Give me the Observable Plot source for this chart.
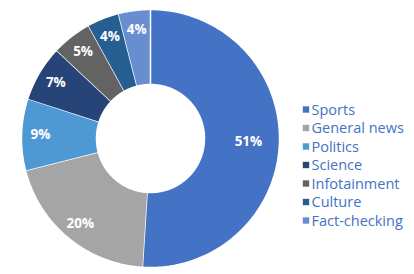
<!DOCTYPE html>
<html>
<head>
<meta charset="utf-8">
<script src="https://cdn.jsdelivr.net/npm/d3@7"></script>
<script src="https://cdn.jsdelivr.net/npm/@observablehq/plot@0.6"></script>
<style>
  html, body { margin: 0; padding: 0; background: #fff; }
  #chart svg { display: block; }
</style>
</head>
<body>
<div id="chart"></div>
<script>
const categories = ["Sports", "General news", "Politics", "Science", "Infotainment", "Culture", "Fact-checking"];
const values = [51, 20, 9, 7, 5, 4, 4];
const colors = ["#4472C4", "#A5A5A5", "#4E98D3", "#264478", "#636363", "#255E91", "#698ED0"];

const W = 414, H = 274;
const cx = 150, cy = 138;
const outerR = 129, innerR = 54;
const labelR = 110, labelRWide = 98; // wide slices keep their label a bit closer to the hole

const total = d3.sum(values);
const pie = d3.pie().sort(null).value(d => d.value)(categories.map((c, i) => ({category: c, value: values[i]})));

// slice outlines (outer arc then inner arc back)
const ring = [];
pie.forEach(p => {
  const n = Math.max(2, Math.ceil((p.endAngle - p.startAngle) / (Math.PI / 180)) + 1);
  for (let k = 0; k < n; k++) {
    const a = p.startAngle + (p.endAngle - p.startAngle) * k / (n - 1);
    ring.push({category: p.data.category, x: outerR * Math.sin(a), y: -outerR * Math.cos(a)});
  }
  for (let k = n - 1; k >= 0; k--) {
    const a = p.startAngle + (p.endAngle - p.startAngle) * k / (n - 1);
    ring.push({category: p.data.category, x: innerR * Math.sin(a), y: -innerR * Math.cos(a)});
  }
});

const labels = pie.map(p => {
  const a = (p.startAngle + p.endAngle) / 2;
  const r = (p.endAngle - p.startAngle) > Math.PI ? labelRWide : labelR;
  return {text: Math.round(p.data.value / total * 100) + "%", x: r * Math.sin(a), y: -r * Math.cos(a)};
});

const legendX = 305.5 - cx, legendY0 = 109 - cy, legendStep = 18.5;
const legend = categories.map((c, i) => ({category: c, x: legendX, y: legendY0 + i * legendStep}));

const chart = Plot.plot({
  width: W,
  height: H,
  margin: 0,
  x: {domain: [-cx, W - cx], range: [0, W], axis: null},
  y: {domain: [-cy, H - cy], range: [0, H], axis: null},
  color: {domain: categories, range: colors},
  style: {fontFamily: "'Open Sans', sans-serif", background: "#fff"},
  marks: [
    Plot.line(ring, {x: "x", y: "y", z: "category", fill: "category", stroke: "white", strokeWidth: 1.5, strokeLinejoin: "miter"}),
    Plot.text(labels, {x: "x", y: "y", text: "text", fill: "white", fontWeight: "bold", fontSize: 13.5}),
    Plot.dot(legend, {x: "x", y: "y", symbol: "square", r: 3.6, fill: "category", stroke: null}),
    Plot.text(legend, {x: "x", y: "y", text: "category", dx: 5.5, dy: 0.5, textAnchor: "start", fill: "#4472C4", fontSize: 14.5})
  ]
});
document.getElementById("chart").appendChild(chart);
</script>
</body>
</html>
